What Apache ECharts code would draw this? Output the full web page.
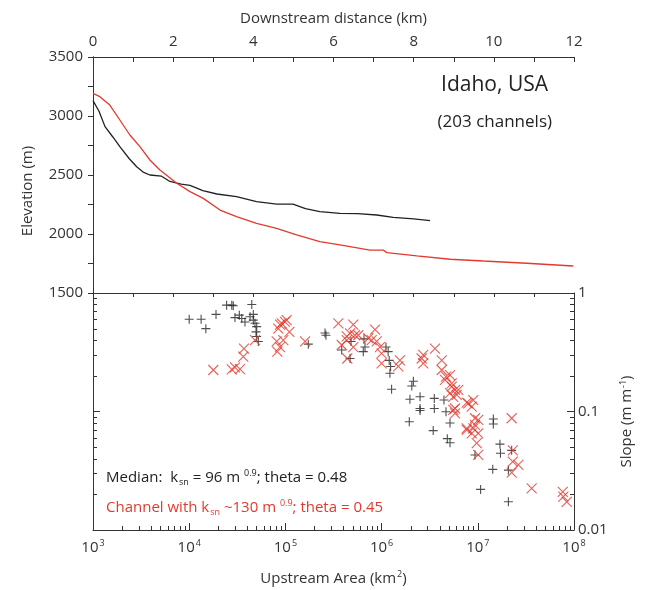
<!DOCTYPE html>
<html>
<head>
<meta charset="utf-8">
<script src="https://cdn.jsdelivr.net/npm/echarts@6/dist/echarts.min.js"></script>
<style>html,body{margin:0;padding:0;background:#fff}#c{width:656px;height:590px}</style>
</head>
<body>
<div id="c"></div>
<script>
// Top panel: elevation profiles (distance km, elevation m)
const blackProfile = [[0,3130],[0.15,3040],[0.3,2910],[0.5,2820],[0.67,2740],[0.9,2640],[1.09,2570],[1.25,2525],[1.42,2500],[1.71,2490],[1.92,2445],[2.2,2422],[2.42,2412],[2.74,2367],[3.09,2339],[3.58,2316],[4.08,2274],[4.58,2254],[4.99,2254],[5.3,2215],[5.66,2189],[6.16,2175],[6.6,2172],[7.08,2161],[7.49,2141],[8.0,2128],[8.41,2113]];
const redProfile = [[0,3192],[0.17,3164],[0.42,3093],[0.67,2966],[0.92,2839],[1.17,2740],[1.42,2627],[1.67,2542],[2.09,2430],[2.42,2359],[2.75,2302],[3.17,2203],[3.58,2147],[4.08,2091],[4.58,2048],[5.08,1992],[5.66,1935],[6.16,1907],[6.91,1864],[7.24,1864],[7.33,1842],[8.08,1814],[8.91,1786],[9.74,1771],[10.82,1752],[11.98,1729]];

// Bottom panel: slope vs upstream area
const blackSlopeArea = [[1.0e4,0.60],[1.33e4,0.60],[1.49e4,0.50],[1.90e4,0.66],[2.45e4,0.79],[2.77e4,0.79],[2.87e4,0.78],[4.47e4,0.80],[2.99e4,0.62],[3.32e4,0.65],[3.52e4,0.61],[3.80e4,0.57],[4.29e4,0.63],[4.64e4,0.66],[4.83e4,0.555],[5.03e4,0.52],[4.95e4,0.47],[5.03e4,0.43],[5.23e4,0.39],[4.64e4,0.59],[2.58e5,0.46],[2.64e5,0.44],[1.73e5,0.37],[3.85e5,0.33],[4.70e5,0.28],[4.81e5,0.39],[6.45e5,0.32],[6.72e5,0.35],[6.56e5,0.41],[1.11e6,0.35],[1.17e6,0.32],[1.20e6,0.27],[1.24e6,0.24],[1.22e6,0.21],[1.27e6,0.154],[2.14e6,0.18],[2.06e6,0.164],[2.51e6,0.133],[1.97e6,0.127],[2.51e6,0.106],[2.51e6,0.102],[3.53e6,0.129],[3.53e6,0.106],[4.45e6,0.125],[4.67e6,0.0996],[1.45e7,0.0865],[1.45e7,0.0785],[1.94e6,0.082],[3.44e6,0.069],[5.14e6,0.080],[4.82e6,0.059],[5.14e6,0.0545],[9.35e6,0.043],[1.70e7,0.053],[1.72e7,0.0444],[1.43e7,0.0325],[2.08e7,0.032],[2.25e7,0.047],[1.07e7,0.022],[2.08e7,0.0173]];
const redSlopeArea = [[1.78e4,0.224],[2.77e4,0.227],[2.99e4,0.236],[3.37e4,0.228],[3.65e4,0.29],[3.71e4,0.34],[4.83e4,0.40],[8.12e4,0.39],[8.24e4,0.32],[8.79e4,0.35],[9.51e4,0.40],[8.44e4,0.50],[9.16e4,0.555],[9.9e4,0.57],[1.03e5,0.59],[1.10e5,0.47],[8.79e4,0.54],[1.60e5,0.39],[3.55e5,0.555],[3.85e5,0.364],[4.34e5,0.43],[4.40e5,0.28],[5.08e5,0.54],[4.70e5,0.457],[4.34e5,0.40],[5.08e5,0.35],[5.73e5,0.44],[7.28e5,0.415],[8.54e5,0.49],[7.88e5,0.40],[8.89e5,0.39],[9.62e5,0.35],[1.0e6,0.255],[1.0e6,0.31],[1.55e6,0.27],[1.49e6,0.24],[2.61e6,0.28],[2.71e6,0.255],[5.29e5,0.44],[2.71e6,0.30],[3.59e6,0.34],[4.22e6,0.27],[4.22e6,0.224],[4.67e6,0.197],[5.14e6,0.203],[5.36e6,0.173],[5.80e6,0.152],[5.56e6,0.133],[6.27e6,0.152],[7.96e6,0.117],[8.98e6,0.125],[9.35e6,0.0877],[2.25e7,0.0877],[4.56e6,0.185],[5.36e6,0.162],[5.14e6,0.143],[6.04e6,0.138],[5.56e6,0.103],[8.65e6,0.11],[1.01e7,0.085],[7.67e6,0.072],[8.98e6,0.072],[8.65e6,0.0655],[5.80e6,0.106],[5.80e6,0.0966],[7.67e6,0.119],[7.67e6,0.070],[9.35e6,0.077],[1.01e7,0.0655],[9.75e6,0.054],[1.01e7,0.043],[2.31e7,0.047],[2.31e7,0.0377],[2.64e7,0.0354],[2.25e7,0.0305],[3.63e7,0.0225],[7.64e7,0.021],[7.75e7,0.0191],[8.4e7,0.0173]];

const distanceRange = [0, 12];
const elevationRange = [1500, 3500];
const areaRange = [1e3, 1e8];
const slopeRange = [0.01, 1];
// log-axis minor tick positions (2..9 within each decade)
const minorMultipliers = [2, 3, 4, 5, 6, 7, 8, 9];
const areaDecades = [1e3, 1e4, 1e5, 1e6, 1e7];
const slopeDecades = [0.01, 0.1];

const FONT = 'Open Sans';
const AX = '#333';
const RED = '#e23a2e';
const chart = echarts.init(document.getElementById('c'), null, {renderer: 'canvas'});
const plusPath = 'path://M5,0L5,10M0,5L10,5';
const crossPath = 'path://M0,0L10,10M10,0L0,10';
const axLine = () => ({lineStyle: {color: AX, width: 1}});
const supRich = () => ({sup: {fontSize: 9, verticalAlign: 'top', padding: [0,0,8,1], fontFamily: FONT, color: AX}});

const textGraphics = [
  {type: 'text', id: 't1', right: 656 - 548, top: 75, style: {text: 'Idaho, USA', font: '21px "' + FONT + '"', fill: '#222'}},
  {type: 'text', id: 't2', right: 656 - 552, top: 114, style: {text: '(203 channels)', font: '17px "' + FONT + '"', fill: '#222'}},
  {type: 'text', id: 't3', left: 106, top: 469, style: {
    text: 'Median:  k{sub|sn} = 96 m {sup|0.9}; theta = 0.48', font: '15px "' + FONT + '"', fill: '#222',
    rich: {sub: {fontSize: 9, fontFamily: FONT, fill: '#222', padding: [10,0,0,1]}, sup: {fontSize: 9, fontFamily: FONT, fill: '#222', padding: [0,0,8,0]}}}},
  {type: 'text', id: 't4', left: 106, top: 499, style: {
    text: 'Channel with k{sub|sn} ~130 m {sup|0.9}; theta = 0.45', font: '15px "' + FONT + '"', fill: RED,
    rich: {sub: {fontSize: 9, fontFamily: FONT, fill: RED, padding: [10,0,0,1]}, sup: {fontSize: 9, fontFamily: FONT, fill: RED, padding: [0,0,8,0]}}}}
];

chart.setOption({
  animation: false,
  grid: [
    {left: 93, right: 82, top: 57, height: 236},
    {left: 93, right: 82, top: 293, height: 237}
  ],
  xAxis: [
    {gridIndex: 0, type: 'value', position: 'top', min: distanceRange[0], max: distanceRange[1], interval: 2,
     name: 'Downstream distance (km)', nameLocation: 'middle', nameGap: 31,
     nameTextStyle: {fontFamily: FONT, fontSize: 15, color: AX},
     axisLine: axLine(), axisTick: {inside: true, length: 5, lineStyle: {color: AX}},
     minorTick: {show: true, splitNumber: 2, length: 5, lineStyle: {color: AX}},
     axisLabel: {fontFamily: FONT, fontSize: 15, color: AX, margin: 8},
     splitLine: {show: false}},
    {gridIndex: 0, type: 'value', position: 'bottom', min: distanceRange[0], max: distanceRange[1], interval: 2,
     axisLine: axLine(), axisTick: {inside: false, length: 4, lineStyle: {color: AX}},
     minorTick: {show: true, splitNumber: 2, length: 4, lineStyle: {color: AX}},
     axisLabel: {show: false}, splitLine: {show: false}},
    {gridIndex: 1, type: 'log', logBase: 10, position: 'bottom', min: areaRange[0], max: areaRange[1],
     name: 'Upstream Area (km{sup|2})', nameLocation: 'middle', nameGap: 40,
     nameTextStyle: {fontFamily: FONT, fontSize: 15, color: AX, rich: supRich()},
     axisLine: axLine(), axisTick: {inside: true, length: 7, lineStyle: {color: AX}},
     axisLabel: {fontFamily: FONT, fontSize: 15, color: AX, margin: 9,
       formatter: v => '10{sup|' + Math.round(Math.log10(v)) + '}', rich: supRich()},
     splitLine: {show: false}}
  ],
  yAxis: [
    {gridIndex: 0, type: 'value', position: 'left', min: elevationRange[0], max: elevationRange[1], interval: 500,
     name: 'Elevation (m)', nameLocation: 'middle', nameGap: 58, nameRotate: 90,
     nameTextStyle: {fontFamily: FONT, fontSize: 15, color: AX, padding: [0, 32, 0, 0]},
     axisLine: axLine(), axisTick: {inside: false, length: 4, lineStyle: {color: AX}},
     minorTick: {show: true, splitNumber: 2, length: 4, lineStyle: {color: AX}},
     axisLabel: {fontFamily: FONT, fontSize: 15, color: AX, margin: 10, formatter: v => String(v)},
     splitLine: {show: false}},
    {gridIndex: 0, type: 'value', position: 'right', min: elevationRange[0], max: elevationRange[1], interval: 500,
     axisLine: axLine(), axisTick: {inside: true, length: 5, lineStyle: {color: AX}},
     minorTick: {show: true, splitNumber: 2, length: 5, lineStyle: {color: AX}},
     axisLabel: {show: false}, splitLine: {show: false}},
    {gridIndex: 1, type: 'log', logBase: 10, position: 'left', min: slopeRange[0], max: slopeRange[1],
     axisLine: axLine(), axisTick: {inside: true, length: 7, lineStyle: {color: AX}},
     axisLabel: {show: false}, splitLine: {show: false}},
    {gridIndex: 1, type: 'log', logBase: 10, position: 'right', min: slopeRange[0], max: slopeRange[1],
     name: 'Slope (m m{sup|-1})', nameLocation: 'middle', nameGap: 42, nameRotate: 90,
     nameTextStyle: {fontFamily: FONT, fontSize: 15, color: AX, padding: [0, 20, 0, 0], rich: supRich()},
     axisLine: axLine(), axisTick: {inside: true, length: 7, lineStyle: {color: AX}},
     axisLabel: {fontFamily: FONT, fontSize: 15, color: AX, margin: 4,
       formatter: v => String(+v.toPrecision(2))},
     splitLine: {show: false}}
  ],
  series: [
    {type: 'line', xAxisIndex: 0, yAxisIndex: 0, data: blackProfile, showSymbol: false, symbol: 'none',
     lineStyle: {color: '#222', width: 1.3}},
    {type: 'line', xAxisIndex: 0, yAxisIndex: 0, data: redProfile, showSymbol: false, symbol: 'none',
     lineStyle: {color: RED, width: 1.3}},
    {type: 'scatter', xAxisIndex: 2, yAxisIndex: 3, data: blackSlopeArea, symbol: plusPath, symbolSize: 9,
     itemStyle: {color: 'none', borderColor: '#222', borderWidth: 1.1}},
    {type: 'scatter', xAxisIndex: 2, yAxisIndex: 3, data: redSlopeArea, symbol: crossPath, symbolSize: 10,
     itemStyle: {color: 'none', borderColor: RED, borderWidth: 1.1}}
  ],
  graphic: textGraphics
});

// Minor ticks of the log axes, positioned through the chart's own log scales
const tickGraphics = [];
function addTick(value, dx, dy) {
  const p = chart.convertToPixel({seriesIndex: 2}, value);
  if (!p || !isFinite(p[0]) || !isFinite(p[1])) return;
  const x = Math.round(p[0]) + (dx === 0 ? 0.5 : 0);
  const y = Math.round(p[1]) + (dy === 0 ? 0.5 : 0);
  tickGraphics.push({type: 'line', silent: true, z: 10,
    shape: {x1: x, y1: y, x2: x + dx, y2: y + dy}, style: {stroke: AX, lineWidth: 1}});
}
areaDecades.forEach(d => minorMultipliers.forEach(m => addTick([d * m, slopeRange[0]], 0, -4)));
slopeDecades.forEach(d => minorMultipliers.forEach(m => {
  addTick([areaRange[0], d * m], 4, 0);
  addTick([areaRange[1], d * m], -4, 0);
}));
chart.setOption({graphic: textGraphics.concat(tickGraphics)});
</script>
</body>
</html>
